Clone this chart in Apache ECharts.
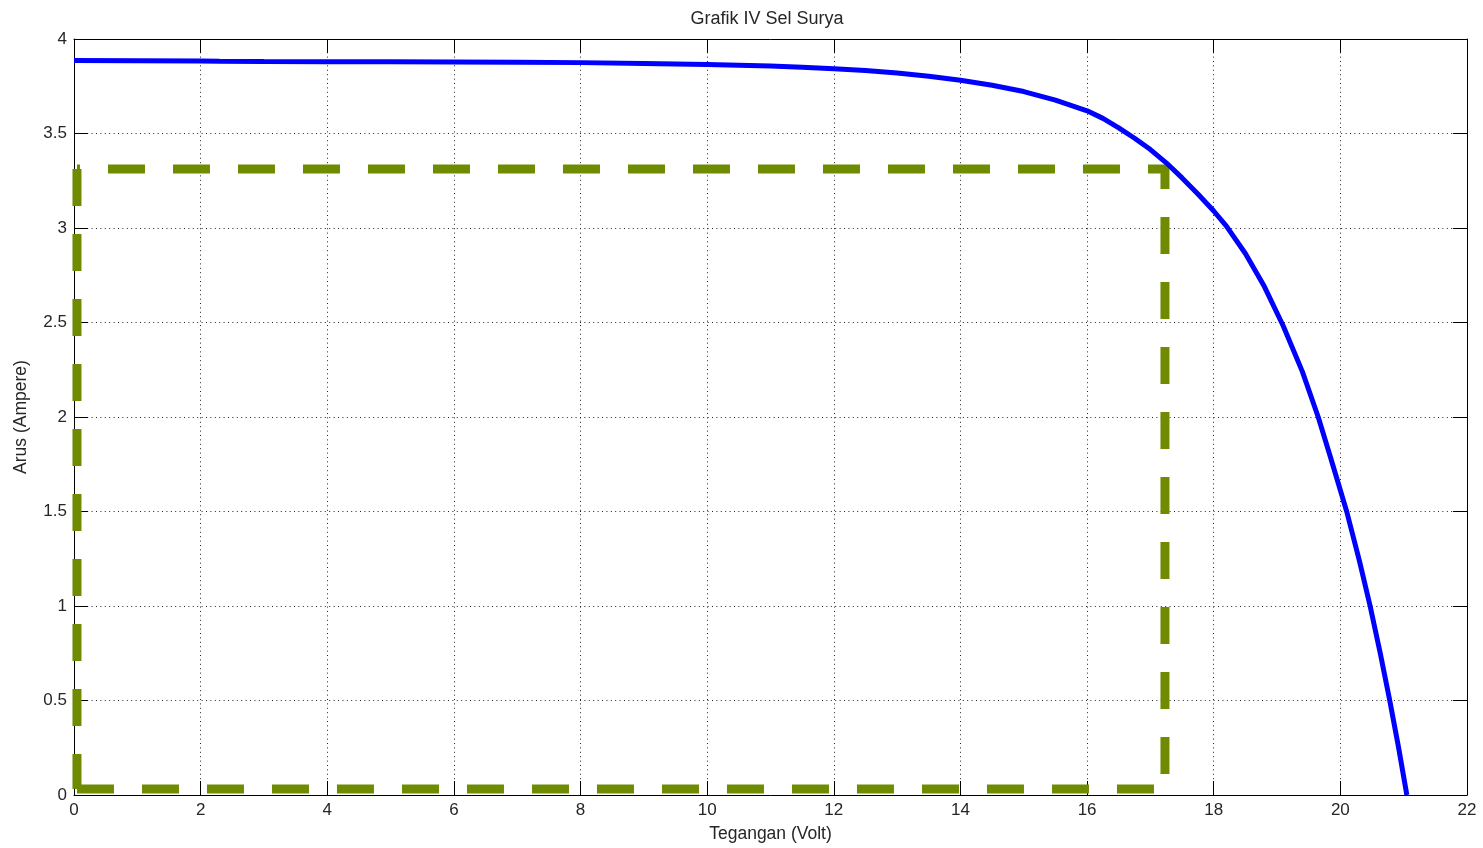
<!DOCTYPE html>
<html><head><meta charset="utf-8">
<script src="https://cdn.jsdelivr.net/npm/echarts@6/dist/echarts.min.js"></script>
<style>html,body{margin:0;padding:0;background:#fff}#c{width:1483px;height:848px}</style>
</head><body><div id="c"></div>
<script>
const titleText = 'Grafik IV Sel Surya';
const xName = 'Tegangan (Volt)';
const yName = 'Arus (Ampere)';
// I-V curve (Volt, Ampere)
const voltage = [0, 1, 2, 2.3, 3, 4, 5, 6, 7, 8, 9, 10, 11, 11.5, 12, 12.5, 13, 13.5, 14, 14.5, 15, 15.5, 16, 16.25, 16.5, 16.75, 17, 17.25, 17.5, 17.75, 18, 18.2, 18.5, 18.8, 19.1, 19.4, 19.65, 19.85, 20.1, 20.3, 20.47, 20.63, 20.78, 20.92, 21.05];
const current = [3.886, 3.885, 3.884, 3.882, 3.881, 3.880, 3.879, 3.878, 3.877, 3.875, 3.871, 3.865, 3.857, 3.851, 3.843, 3.833, 3.82, 3.803, 3.782, 3.755, 3.722, 3.677, 3.62, 3.58, 3.53, 3.475, 3.415, 3.345, 3.265, 3.18, 3.09, 3.01, 2.865, 2.69, 2.48, 2.24, 2.0, 1.78, 1.5, 1.24, 1.0, 0.75, 0.5, 0.25, 0];
// Maximum power rectangle corners
const boxVoltage = [0.047, 17.23];
const boxCurrent = [0.032, 3.312];

const curve = voltage.map((v, i) => [v, current[i]]);
const [v0, v1] = boxVoltage;
const [i0, i1] = boxCurrent;
const leftEdge = [[v0, i1], [v0, i0]];
const bottomEdge = [[v0, i0], [v1, i0]];
const topRightEdge = [[v0, i1], [v1, i1], [v1, i0]];

const green = '#6f8b00';
const txt = '#262626';
const font = 'Liberation Sans, Arial, sans-serif';
function greenSeries(data, offset) {
  return {
    type: 'line', data, showSymbol: false, clip: false, silent: true, z: 3,
    lineStyle: { color: green, width: 9, type: [37, 28], dashOffset: offset, cap: 'butt', join: 'miter' }
  };
}
const chart = echarts.init(document.getElementById('c'), null, { renderer: 'canvas' });
chart.setOption({
  animation: false,
  backgroundColor: '#fff',
  title: { text: titleText, left: 762, textAlign: 'center', top: 5,
    textStyle: { fontSize: 18, fontWeight: 'normal', color: txt, fontFamily: font } },
  grid: { left: 74, right: 16, top: 39, bottom: 53 },
  xAxis: [{
    type: 'value', min: 0, max: 22, interval: 2,
    name: xName, nameLocation: 'middle', nameGap: 30,
    nameTextStyle: { fontSize: 17.5, color: txt, fontFamily: font },
    axisLine: { show: true, onZero: false, lineStyle: { color: '#000', width: 1 } },
    axisTick: { show: true, inside: true, length: 14, lineStyle: { color: '#000' } },
    axisLabel: { margin: 7, fontSize: 17, color: txt, fontFamily: font },
    splitLine: { show: true, lineStyle: { color: '#222', width: 1, type: [1, 3.4] } }
  }, {
    type: 'value', min: 0, max: 22, interval: 2, position: 'top',
    axisLine: { show: true, onZero: false, lineStyle: { color: '#000', width: 1 } },
    axisTick: { show: true, inside: true, length: 14, lineStyle: { color: '#000' } },
    axisLabel: { show: false }, splitLine: { show: false }
  }],
  yAxis: [{
    type: 'value', min: 0, max: 4, interval: 0.5,
    name: yName, nameLocation: 'middle', nameGap: 44, nameRotate: 90,
    nameTextStyle: { fontSize: 17.5, color: txt, fontFamily: font },
    axisLine: { show: true, onZero: false, lineStyle: { color: '#000', width: 1 } },
    axisTick: { show: true, inside: true, length: 14, lineStyle: { color: '#000' } },
    axisLabel: { margin: 7, fontSize: 17, color: txt, fontFamily: font },
    splitLine: { show: true, lineStyle: { color: '#222', width: 1, type: [1, 3.4] } }
  }, {
    type: 'value', min: 0, max: 4, interval: 0.5, position: 'right',
    axisLine: { show: true, onZero: false, lineStyle: { color: '#000', width: 1 } },
    axisTick: { show: true, inside: true, length: 14, lineStyle: { color: '#000' } },
    axisLabel: { show: false }, splitLine: { show: false }
  }],
  series: [
    greenSeries(leftEdge, 0),
    greenSeries(bottomEdge, 0),
    greenSeries(topRightEdge, 34),
    {
      type: 'line', data: curve, showSymbol: false, smooth: false, silent: true, z: 4,
      lineStyle: { color: '#0000ff', width: 5 }
    }
  ]
});
</script>
</body></html>
